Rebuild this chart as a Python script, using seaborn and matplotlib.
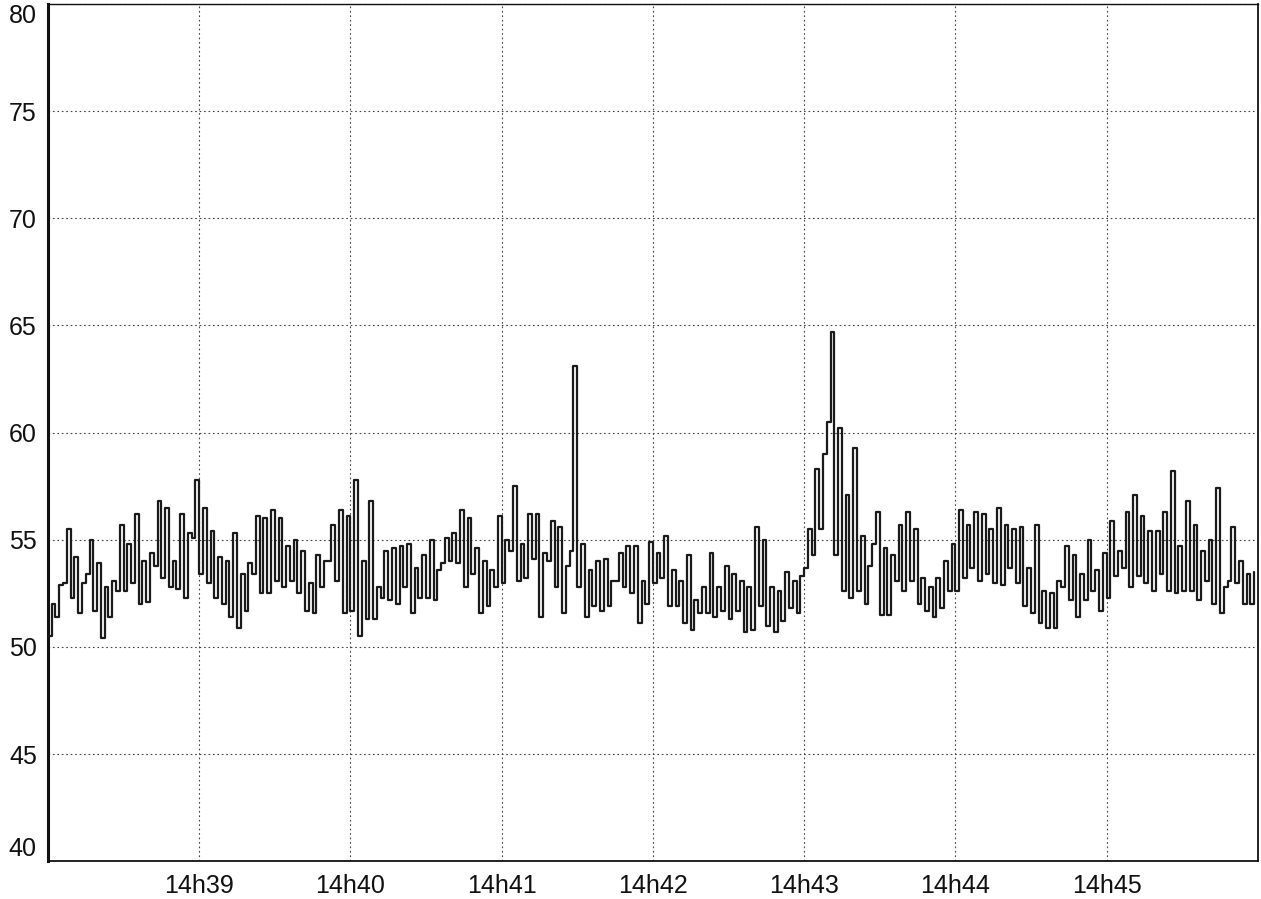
import numpy as np
import pandas as pd
import seaborn as sns
import matplotlib.pyplot as plt
import matplotlib.dates as mdates

# Recording start and sampling: one min/max pair per 3-second window
start_time = "2000-01-01 14:38:00"
window_seconds = 3

# Minimum level in each window (dB)
window_low = [
    50.5, 51.4, 53.0, 52.3, 51.6, 53.4, 51.7, 50.4, 51.4, 52.6,
    52.6, 53.0, 52.0, 52.1, 53.8, 53.2, 52.8, 52.7, 52.3, 55.1,
    53.4, 53.0, 52.3, 52.0, 51.4, 50.9, 51.7, 53.4, 52.5, 52.5,
    53.1, 52.8, 53.1, 52.5, 51.7, 51.6, 52.8, 54.0, 53.1, 51.6,
    51.7, 50.5, 51.3, 51.3, 52.3, 52.2, 52.0, 52.8, 51.6, 52.3,
    52.3, 52.2, 53.9, 54.0, 53.9, 52.8, 53.4, 51.6, 51.9, 52.8,
    53.0, 54.5, 53.1, 53.2, 54.1, 51.4, 54.0, 52.8, 51.6, 54.5,
    52.8, 51.4, 51.9, 51.7, 51.9, 53.1, 52.8, 52.5, 51.1, 52.0,
    53.0, 53.2, 51.9, 51.9, 51.1, 50.8, 51.6, 51.6, 51.4, 51.7,
    51.3, 51.7, 50.7, 50.8, 51.9, 51.0, 50.7, 51.2, 51.8, 51.6,
    53.7, 54.3, 55.5, 60.5, 54.3, 52.6, 52.3, 52.6, 52.0, 54.8,
    51.5, 51.5, 53.1, 52.6, 53.1, 52.0, 51.7, 51.4, 51.8, 52.6,
    52.6, 53.2, 53.7, 53.1, 53.4, 53.0, 52.9, 53.7, 53.0, 51.9,
    51.6, 51.1, 50.9, 50.9, 52.8, 52.2, 51.4, 52.2, 52.6, 51.7,
    52.3, 53.3, 53.7, 52.8, 53.3, 53.0, 52.6, 53.4, 52.6, 52.5,
    52.6, 52.6, 52.2, 53.1, 52.0, 51.6, 53.1, 53.0, 52.0, 52.0,
]

# Maximum level in each window (dB)
window_high = [
    52.0, 52.9, 55.5, 54.2, 53.0, 55.0, 53.9, 52.8, 53.1, 55.7,
    54.8, 56.2, 54.0, 54.4, 56.8, 56.5, 54.0, 56.2, 55.3, 57.8,
    56.5, 55.4, 54.2, 54.0, 55.3, 53.4, 53.9, 56.1, 56.0, 56.4,
    56.0, 54.7, 55.0, 54.5, 53.0, 54.3, 54.0, 55.7, 56.4, 56.1,
    57.8, 54.0, 56.8, 52.8, 54.5, 54.6, 54.7, 54.8, 53.7, 54.3,
    55.0, 53.6, 55.1, 55.3, 56.4, 56.0, 54.6, 54.0, 53.6, 56.1,
    55.0, 57.5, 54.8, 56.2, 56.2, 54.4, 55.9, 55.6, 53.8, 63.1,
    54.8, 53.6, 54.0, 54.1, 53.1, 54.4, 54.7, 54.7, 53.1, 54.9,
    54.4, 55.2, 53.6, 53.1, 54.3, 52.2, 52.8, 54.4, 52.8, 53.8,
    53.4, 53.1, 52.8, 55.6, 55.0, 52.8, 52.6, 53.5, 53.1, 53.3,
    55.5, 58.3, 59.0, 64.7, 60.2, 57.1, 59.3, 55.2, 53.8, 56.3,
    54.6, 54.3, 55.7, 56.3, 55.5, 53.2, 52.8, 53.2, 54.0, 54.8,
    56.4, 55.7, 56.3, 56.2, 55.5, 56.5, 55.7, 55.5, 55.6, 53.7,
    55.7, 52.6, 52.5, 53.1, 54.7, 54.3, 53.4, 55.0, 53.6, 54.4,
    55.9, 54.5, 56.3, 57.1, 56.1, 55.4, 55.4, 56.3, 58.2, 54.7,
    56.8, 55.7, 54.5, 55.0, 57.4, 52.8, 55.6, 54.0, 53.4, 53.5,
]

# Y axis ticks (dB) and x axis tick times
y_ticks = [40, 45, 50, 55, 60, 65, 70, 75, 80]
x_minutes = ["14:39", "14:40", "14:41", "14:42", "14:43", "14:44", "14:45"]

# Long-form trace: each window contributes its low then its high value
t0 = pd.Timestamp(start_time)
rows = []
for k, (lo, hi) in enumerate(zip(window_low, window_high)):
    rows.append((t0 + pd.Timedelta(seconds=k * window_seconds), lo))
    rows.append((t0 + pd.Timedelta(seconds=k * window_seconds + window_seconds / 2), hi))
trace = pd.DataFrame(rows, columns=["time", "level"])

sns.set_theme(style="white")
plt.rcParams["font.family"] = ["Liberation Sans", "DejaVu Sans"]

fig = plt.figure(figsize=(12.61, 8.99), dpi=100)
ax = fig.add_axes([0.038, 0.042, 0.9595, 0.9535])

ax.grid(True, color="#444444", linestyle=(0, (1.5, 2.5)), linewidth=0.8)
ax.set_axisbelow(True)

sns.lineplot(data=trace, x="time", y="level", ax=ax, color="#1a1a1a",
             linewidth=1.6, drawstyle="steps-post", estimator=None, zorder=3)

ax.set_ylim(40, 80)
ax.set_xlim(t0, t0 + pd.Timedelta(minutes=8))
ax.set_yticks(y_ticks)
ax.set_xticks([pd.Timestamp("2000-01-01 " + m) for m in x_minutes])
ax.xaxis.set_major_formatter(mdates.DateFormatter("%Hh%M"))
ax.set_xlabel("")
ax.set_ylabel("")

ax.tick_params(axis="both", labelsize=18, colors="#111111", length=6,
               width=1.0, direction="out", pad=2)
ax.tick_params(axis="x", pad=3)

# keep the end labels inside the figure
ylabels = ax.get_yticklabels()
ylabels[-1].set_verticalalignment("top")
ylabels[0].set_verticalalignment("bottom")

for side, lw in (("left", 2.2), ("bottom", 1.3), ("top", 1.0), ("right", 1.3)):
    ax.spines[side].set_visible(True)
    ax.spines[side].set_color("#111111")
    ax.spines[side].set_linewidth(lw)

fig.savefig("out.png", dpi=100, facecolor="white")
